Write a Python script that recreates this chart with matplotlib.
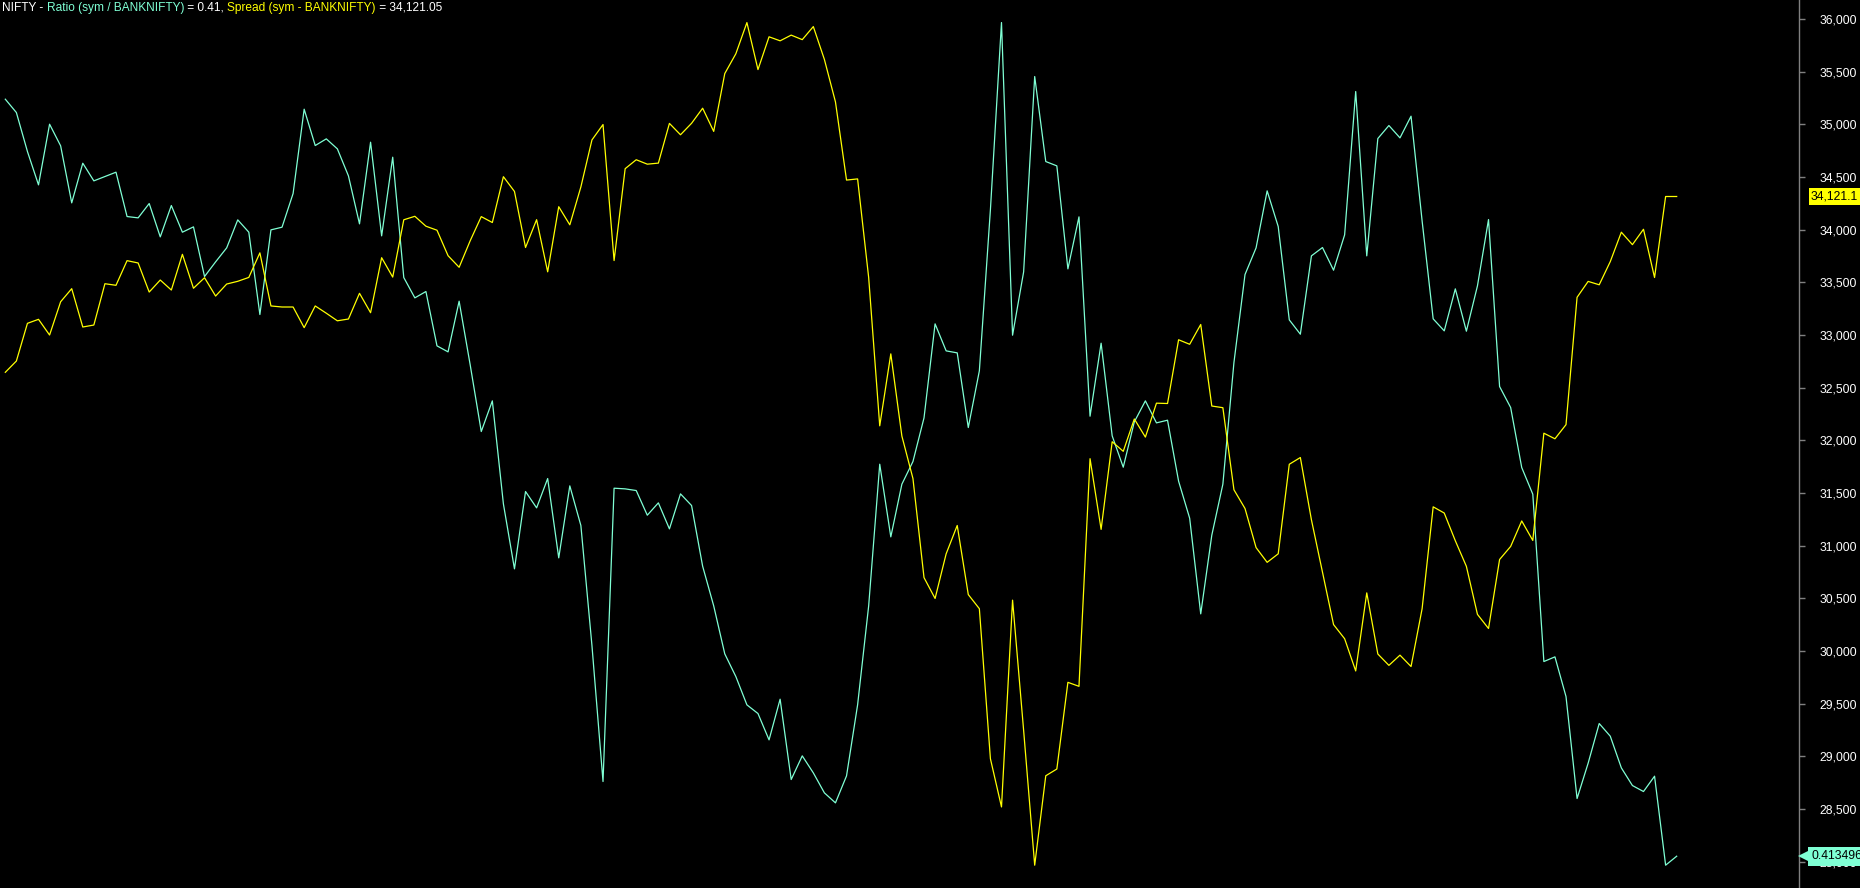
import numpy as np
import matplotlib.pyplot as plt
import matplotlib.transforms as mtransforms
from matplotlib.lines import Line2D
from matplotlib.ticker import FuncFormatter

plt.rcParams['font.family'] = ['Liberation Sans', 'DejaVu Sans']

# Ratio (sym / BANKNIFTY), one value per bar
ratio = [
    0.43621, 0.43581, 0.43464, 0.43364, 0.43546, 0.43481, 0.43310, 0.43429, 0.43376, 0.43389,
    0.43402, 0.43269, 0.43265, 0.43308, 0.43208, 0.43302, 0.43222, 0.43238, 0.43089, 0.43133,
    0.43175, 0.43259, 0.43222, 0.42975, 0.43229, 0.43237, 0.43338, 0.43591, 0.43482, 0.43502,
    0.43472, 0.43391, 0.43247, 0.43492, 0.43211, 0.43447, 0.43086, 0.43025, 0.43044, 0.42881,
    0.42863, 0.43015, 0.42824, 0.42624, 0.42716, 0.42407, 0.42212, 0.42444, 0.42395, 0.42483,
    0.42245, 0.42461, 0.42342, 0.41982, 0.41574, 0.42454, 0.42452, 0.42447, 0.42373, 0.42410,
    0.42332, 0.42437, 0.42402, 0.42220, 0.42101, 0.41957, 0.41889, 0.41804, 0.41778, 0.41699,
    0.41821, 0.41580, 0.41651, 0.41600, 0.41540, 0.41510, 0.41591, 0.41804, 0.42101, 0.42526,
    0.42308, 0.42466, 0.42534, 0.42665, 0.42947, 0.42866, 0.42860, 0.42636, 0.42806, 0.43290,
    0.43851, 0.42913, 0.43103, 0.43689, 0.43434, 0.43421, 0.43112, 0.43268, 0.42670, 0.42889,
    0.42611, 0.42517, 0.42653, 0.42716, 0.42650, 0.42658, 0.42475, 0.42364, 0.42077, 0.42313,
    0.42466, 0.42831, 0.43095, 0.43175, 0.43346, 0.43239, 0.42959, 0.42916, 0.43151, 0.43176,
    0.43108, 0.43214, 0.43644, 0.43151, 0.43503, 0.43542, 0.43505, 0.43570, 0.43256, 0.42962,
    0.42926, 0.43052, 0.42925, 0.43061, 0.43260, 0.42759, 0.42696, 0.42516, 0.42436, 0.41934,
    0.41948, 0.41829, 0.41523, 0.41629, 0.41748, 0.41710, 0.41615, 0.41562, 0.41544, 0.41590,
    0.41323, 0.41350,
]

# Spread (sym - BANKNIFTY), right axis
spread = [
    32646, 32753, 33111, 33149, 33000, 33316, 33440, 33076, 33095, 33487,
    33472, 33706, 33684, 33408, 33522, 33427, 33766, 33444, 33544, 33370,
    33484, 33510, 33547, 33780, 33276, 33266, 33266, 33070, 33276, 33207,
    33135, 33152, 33396, 33212, 33734, 33550, 34094, 34127, 34033, 33995,
    33753, 33643, 33895, 34124, 34068, 34503, 34363, 33831, 34095, 33600,
    34218, 34046, 34406, 34852, 34998, 33707, 34579, 34664, 34622, 34632,
    35009, 34901, 35010, 35153, 34933, 35482, 35670, 35966, 35520, 35831,
    35793, 35847, 35804, 35928, 35616, 35213, 34471, 34482, 33546, 32138,
    32821, 32041, 31638, 30697, 30499, 30923, 31192, 30536, 30402, 28977,
    28520, 30483, 29246, 27967, 28816, 28880, 29703, 29665, 31826, 31155,
    31987, 31896, 32203, 32031, 32353, 32350, 32955, 32912, 33100, 32326,
    32310, 31531, 31353, 30982, 30842, 30923, 31773, 31837, 31246, 30751,
    30251, 30117, 29811, 30552, 29972, 29864, 29961, 29853, 30402, 31369,
    31310, 31047, 30804, 30348, 30214, 30869, 30993, 31235, 31050, 32068,
    32015, 32149, 33358, 33509, 33477, 33697, 33976, 33858, 34004, 33546,
    34315, 34315,
]

spread_ticks = list(range(28000, 36001, 500))
ratio_label = "0.413496"
spread_label = "34,121.1"

cyan = '#7fffd4'
yellow = '#ffff00'

title_parts = [
    ("NIFTY - ", 'white'),
    ("Ratio (sym / BANKNIFTY)", cyan),
    (" = 0.41, ", 'white'),
    ("Spread (sym - BANKNIFTY)", yellow),
    (" = 34,121.05", 'white'),
]

W, H = 1860, 888
fig = plt.figure(figsize=(W / 100, H / 100), dpi=100, facecolor='black')
ax = fig.add_axes([0, 0, 1799 / W, 1])
ax.set_facecolor('black')
ax2 = ax.twinx()

x = np.arange(len(spread))
ax.plot(x, ratio, color=cyan, lw=0.9)
ax2.plot(x, spread, color=yellow, lw=0.9)

ax.set_xlim(-0.479, 162.05)
ax.set_ylim(0.412546, 0.439186)
ax2.set_ylim(27750.5, 36180.4)
ax.set_xticks([])
ax.set_yticks([])

ax2.set_yticks(spread_ticks)
ax2.yaxis.set_major_formatter(FuncFormatter(lambda v, p: f"{v:,.0f}"))
ax2.tick_params(axis='y', color='#808080', labelcolor='white', length=4,
                width=1, pad=10.5, labelsize=8.7)

for a in (ax, ax2):
    for s in a.spines.values():
        s.set_visible(False)
ax2.spines['right'].set_visible(True)
ax2.spines['right'].set_color('#808080')
ax2.spines['right'].set_linewidth(1)

# title made of coloured pieces
fs_title = 8.6
renderer = fig.canvas.get_renderer()
x0 = 2 / W
y0 = 1 - 11 / H
prefix = ""
for txt, col in title_parts:
    probe = fig.text(0, 0, prefix + "|", fontsize=fs_title)
    bar = fig.text(0, 0, "|", fontsize=fs_title)
    off = 0 if prefix == "" else (probe.get_window_extent(renderer).width
                                  - bar.get_window_extent(renderer).width)
    probe.remove()
    bar.remove()
    fig.text(x0 + off / W, y0, txt, color=col, fontsize=fs_title, va='baseline', ha='left')
    prefix += txt

# last value labels on the price axis
tr_spread = mtransforms.blended_transform_factory(fig.transFigure, ax2.transData)
tr_ratio = mtransforms.blended_transform_factory(fig.transFigure, ax.transData)

fig.text(1811 / W, spread[-1], spread_label, transform=tr_spread, color='black',
         fontsize=8.7, va='center', ha='left', zorder=10,
         bbox=dict(boxstyle='square,pad=0.18', fc=yellow, ec='none'))

fig.text(1811 / W, ratio[-1], ratio_label, transform=tr_ratio, color='black',
         fontsize=8.7, va='center', ha='left', zorder=10,
         bbox=dict(boxstyle='square,pad=0.28', fc=cyan, ec='none'))
fig.add_artist(Line2D([1804 / W], [ratio[-1]], transform=tr_ratio, marker='<',
                      markersize=8, color=cyan, markeredgewidth=0, zorder=10))

fig.savefig('out.png', dpi=100, facecolor='black')
